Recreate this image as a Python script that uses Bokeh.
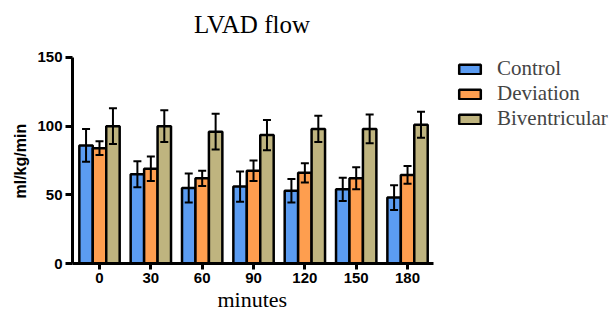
from bokeh.plotting import figure
from bokeh.models import (ColumnDataSource, Whisker, TeeHead, Legend, LegendItem,
                          FixedTicker, Title, Label)
from bokeh.embed import file_html
from bokeh.resources import INLINE

categories = ["0", "30", "60", "90", "120", "150", "180"]
series_names = ["Control", "Deviation", "Biventricular"]
control = [86, 65, 55, 56, 53, 54, 48]
control_err = [12, 9.5, 10.5, 11, 8.5, 8.5, 9]
deviation = [84, 69, 62, 67.5, 66, 62, 64.5]
deviation_err = [5, 9, 5.5, 7.5, 7, 8, 6.5]
biventricular = [100, 100, 96, 93.5, 98, 98, 101]
biventricular_err = [13, 11.5, 13, 11, 9.5, 10.5, 9.5]
colors = ["#5B9CF2", "#FE9E4F", "#BFB47F"]
y_ticks = [0, 50, 100, 150]

p = figure(width=616, height=310, output_backend="svg", toolbar_location=None,
           x_range=(-0.526, 10.07), y_range=(0, 191.5),
           min_border_left=72, min_border_right=0, min_border_top=0, min_border_bottom=47)
p.title.visible = False
p.grid.visible = False
p.outline_line_color = None

title = Label(text="LVAD flow", x=179.5, y=239, x_units="screen", y_units="screen",
              text_align="center", text_baseline="alphabetic",
              text_font="Liberation Serif", text_font_size="25px", text_color="black")
p.add_layout(title)

bw = 0.262
offsets = [-bw, 0, bw]
xs = list(range(len(categories)))
items = []
for vals, errs, off, col, name in zip([control, deviation, biventricular],
                                        [control_err, deviation_err, biventricular_err],
                                        offsets, colors, series_names):
    src = ColumnDataSource(dict(x=[x + off for x in xs], top=vals,
                                upper=[v + e for v, e in zip(vals, errs)],
                                lower=[v - e for v, e in zip(vals, errs)]))
    r = p.vbar(x="x", top="top", width=bw, bottom=0, source=src,
               fill_color=col, line_color="black", line_width=2.5)
    items.append(LegendItem(label=name, renderers=[r]))
    w = Whisker(base="x", upper="upper", lower="lower", source=src, dimension="height",
                line_color="black", line_width=2,
                upper_head=TeeHead(size=8, line_width=2, line_color="black"),
                lower_head=TeeHead(size=8, line_width=2, line_color="black"),
                level="overlay")
    p.add_layout(w)

legend = Legend(items=items, location=(384, 132), orientation="vertical",
                glyph_width=27, glyph_height=12, label_standoff=14,
                label_text_font="Liberation Serif", label_text_font_size="21px",
                label_height=20, spacing=0, padding=0, margin=0,
                border_line_color=None, background_fill_alpha=0)
p.add_layout(legend)

for ax in [p.xaxis[0], p.yaxis[0]]:
    ax.axis_line_width = 3
    ax.axis_line_color = "black"
    ax.major_tick_line_width = 3
    ax.major_tick_line_color = "black"
    ax.minor_tick_line_color = None
    ax.major_tick_in = 0
    ax.major_label_text_font = "Liberation Sans"
    ax.major_label_text_font_style = "bold"
    ax.major_label_text_font_size = "15px"
    ax.major_label_text_color = "black"

p.yaxis.bounds = (0, 150)
p.yaxis.ticker = FixedTicker(ticks=y_ticks)
p.yaxis.major_tick_out = 7
p.yaxis.major_label_standoff = 3

ylabel = Title(text="ml/kg/min", align="left", offset=65, standoff=12,
               text_font="Liberation Sans", text_font_size="16px",
               text_font_style="bold", text_color="black")
p.add_layout(ylabel, "left")

p.xaxis.bounds = (-0.526, 6.507)
p.xaxis.ticker = FixedTicker(ticks=xs)
p.xaxis.major_label_overrides = {i: c for i, c in enumerate(categories)}
p.xaxis.major_tick_out = 6
p.xaxis.major_label_standoff = 3

xlabel = Title(text="minutes", align="left", offset=145, standoff=-2,
               text_font="Liberation Serif", text_font_size="22px",
               text_font_style="normal", text_color="black")
p.add_layout(xlabel, "below")

open("out.html", "w").write(file_html(p, INLINE))
